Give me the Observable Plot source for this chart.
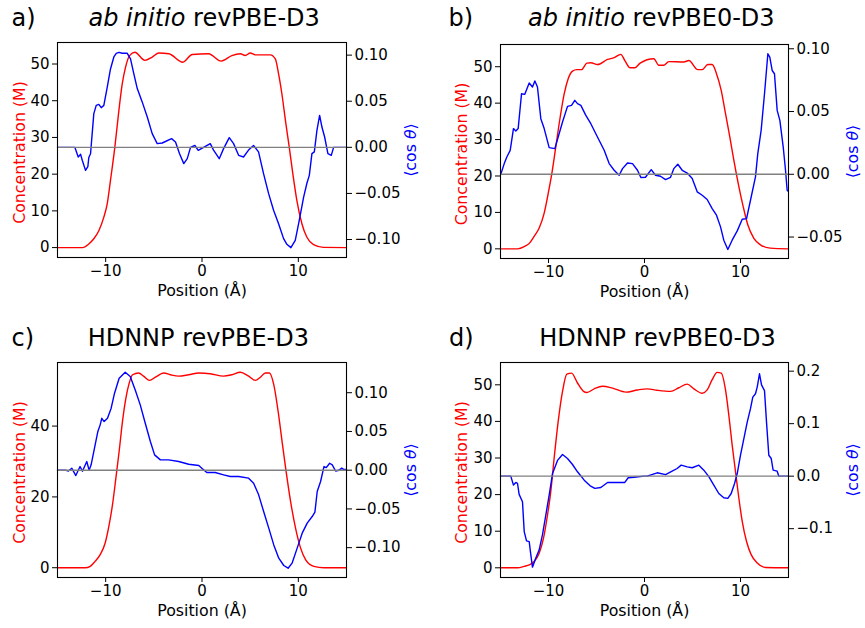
<!DOCTYPE html>
<html><head><meta charset="utf-8">
<script src="https://cdn.jsdelivr.net/npm/d3@7"></script>
<script src="https://cdn.jsdelivr.net/npm/@observablehq/plot@0.6"></script>
<style>
body{margin:0;background:#fff;}
#chart{position:relative;width:865px;height:628px;font-family:"DejaVu Sans",sans-serif;}
#chart svg{position:absolute;left:0;top:0;}
</style></head><body><div id="chart"></div>
<script>
// ---------- data ----------
const xTicks = [-10, 0, 10];

const concA = [[-15,0],[-12.4,0],[-11.75,1.0],[-11.23,2.4],[-10.71,4.6],[-10.19,8.3],[-9.84,11.9],[-9.5,18.3],[-9.05,27.3],[-8.63,37.3],[-8.28,44.6],[-7.94,49.1],[-7.52,52.3],[-6.97,53.2],[-5.93,51.0],[-5.17,51.9],[-4.48,53.0],[-3.44,52.8],[-1.99,50.5],[-1.01,52.6],[0.68,52.8],[2.0,50.8],[3.1,52.3],[3.97,52.8],[4.49,52.3],[5.01,53.0],[5.53,52.5],[7.09,52.5],[7.61,51.4],[7.95,47.3],[8.29,41.9],[8.71,33.7],[9.06,27.3],[9.43,20.1],[9.85,12.8],[10.37,6.5],[10.89,2.8],[11.58,0.8],[12.62,0.05],[15,0]];
const cosA = [[-15,0],[-13.2,0],[-12.85,-0.0105],[-12.6,-0.0076],[-12.43,-0.014],[-12.09,-0.025],[-11.85,-0.021],[-11.75,-0.011],[-11.57,-0.0069],[-11.4,0.0148],[-11.23,0.0365],[-10.98,0.0455],[-10.71,0.0466],[-10.46,0.043],[-10.19,0.0455],[-9.84,0.065],[-9.5,0.085],[-9.15,0.098],[-8.9,0.102],[-8.63,0.103],[-8.28,0.102],[-7.76,0.102],[-7.42,0.096],[-7.08,0.080],[-6.72,0.0637],[-6.2,0.049],[-5.68,0.0329],[-5.17,0.0149],[-4.65,0.004],[-4.13,0.0047],[-3.16,0.0094],[-2.75,0.0058],[-2.33,-0.0069],[-1.89,-0.0177],[-1.53,-0.0123],[-1.19,0],[-0.74,0.002],[-0.39,-0.0033],[0.16,0],[0.86,0.004],[1.2,-0.003],[1.79,-0.0123],[2.24,-0.0014],[2.83,0.0105],[3.28,0.004],[3.8,-0.0087],[4.31,-0.0105],[4.83,-0.003],[5.35,0.002],[5.87,-0.005],[6.39,-0.0286],[6.91,-0.050],[7.43,-0.0683],[7.95,-0.0828],[8.47,-0.099],[8.81,-0.1052],[9.23,-0.1088],[9.68,-0.1009],[10.03,-0.0828],[10.55,-0.054],[10.89,-0.039],[11.14,-0.0304],[11.41,-0.0069],[11.66,-0.005],[11.93,0.0184],[12.21,0.0347],[12.45,0.022],[12.73,0.0112],[13.07,-0.0069],[13.42,-0.0087],[13.66,0],[15,0]];

const concB = [[-15,0],[-13.2,0],[-12.53,0.6],[-12.0,1.5],[-11.5,3.4],[-10.97,5.7],[-10.45,9.8],[-10.03,15.2],[-9.65,20.7],[-9.24,28],[-8.78,36.2],[-8.36,42.6],[-7.95,46.7],[-7.5,48.8],[-7.05,49.2],[-6.56,49.2],[-6.0,51.0],[-5.59,51.1],[-4.9,50.6],[-3.85,52.0],[-3.16,52.5],[-2.47,53.4],[-2.05,51.7],[-1.49,49.7],[-1.01,49.7],[-0.45,51.0],[0.97,52.2],[1.49,50.4],[2.0,50.4],[2.53,51.4],[4.1,51.3],[4.62,51.7],[5.55,49.2],[6.01,49.2],[6.6,50.6],[7.05,50.6],[7.5,48.1],[7.99,43.5],[8.44,37.1],[8.89,30.7],[9.3,24.4],[9.76,18],[10.28,11.6],[10.76,6.6],[11.39,2.9],[12.08,1.1],[13.1,0.2],[15,0]];
const cosB = [[-14.97,0],[-14.61,0.0085],[-14.34,0.0138],[-13.99,0.019],[-13.65,0.0364],[-13.4,0.0345],[-13.16,0.0364],[-12.81,0.0642],[-12.47,0.0637],[-12.01,0.0727],[-11.67,0.0695],[-11.42,0.0743],[-11.15,0.0695],[-10.8,0.0443],[-10.45,0.0364],[-9.93,0.0212],[-9.34,0.0204],[-8.99,0.0297],[-8.54,0.0416],[-8.02,0.0541],[-7.6,0.0549],[-7.26,0.0589],[-6.98,0.0563],[-6.63,0.0549],[-6.11,0.0469],[-5.59,0.0403],[-4.9,0.0297],[-4.2,0.0191],[-3.68,0.0085],[-3.16,0.0032],[-2.64,-0.0008],[-2.29,0.0045],[-1.77,0.009],[-1.25,0.0085],[-0.73,0.0032],[-0.38,-0.0026],[0.1,-0.0024],[0.7,0.0037],[1.15,-0.0008],[1.67,-0.0016],[2.19,-0.0042],[2.71,-0.0024],[3.05,0.0045],[3.47,0.008],[3.93,0.0032],[4.45,0.001],[4.97,-0.0034],[5.49,-0.014],[6.01,-0.0167],[6.53,-0.0201],[7.05,-0.0273],[7.5,-0.0326],[7.92,-0.0419],[8.26,-0.0525],[8.68,-0.0599],[9.13,-0.0525],[9.66,-0.0451],[10.18,-0.0358],[10.63,-0.0353],[11.04,-0.0207],[11.56,-0.0021],[11.8,0.0165],[12.15,0.035],[12.5,0.0642],[12.85,0.096],[13.05,0.0933],[13.3,0.0827],[13.54,0.0801],[13.82,0.0509],[14.1,0.043],[14.45,0.0217],[14.69,0.0032],[14.86,-0.0127],[14.97,-0.0135]];

const concC = [[-15,0],[-12.14,0],[-11.6,0.4],[-11.1,1.8],[-10.57,3.7],[-10.05,7],[-9.64,12.1],[-9.29,17.8],[-8.94,25.3],[-8.6,32.9],[-8.25,41.4],[-7.9,47.9],[-7.55,52.2],[-7.21,54.5],[-6.58,55.0],[-6.06,54.1],[-5.44,52.9],[-4.84,53.8],[-3.98,55.0],[-3.28,54.5],[-2.42,54.1],[-1.38,54.5],[-0.33,55.0],[0.85,54.8],[2.24,54.1],[3.1,54.5],[3.98,55.2],[4.84,54.1],[5.54,52.9],[6.06,53.8],[6.58,55.0],[7.0,55.0],[7.45,51.7],[7.9,44.2],[8.31,35.7],[8.73,27.2],[9.19,18.8],[9.71,11.2],[10.23,5.6],[10.75,2.3],[11.61,0.4],[12.66,0],[15,0]];
const cosC = [[-15,0],[-14.2,0],[-13.87,-0.001],[-13.52,0.0026],[-13.1,-0.0069],[-12.66,0.0047],[-12.41,-0.0013],[-11.96,0.0112],[-11.72,0],[-11.51,0.0069],[-11.16,0.0284],[-10.81,0.05],[-10.57,0.0585],[-10.4,0.067],[-10.16,0.0628],[-9.81,0.067],[-9.43,0.08],[-9.08,0.0994],[-8.6,0.1187],[-7.97,0.1265],[-7.45,0.121],[-6.93,0.1036],[-6.41,0.0843],[-5.89,0.0606],[-5.36,0.037],[-4.92,0.0198],[-4.32,0.0133],[-3.46,0.0133],[-2.42,0.0112],[-1.38,0.0077],[-0.33,0.006],[-0.02,0.0026],[0.5,-0.003],[1.37,-0.003],[2.24,-0.006],[2.93,-0.0082],[3.8,-0.0082],[4.84,-0.0103],[5.36,-0.0168],[5.88,-0.0318],[6.4,-0.0533],[6.93,-0.0748],[7.45,-0.0964],[7.97,-0.1135],[8.49,-0.123],[8.94,-0.1265],[9.35,-0.12],[9.88,-0.1006],[10.4,-0.0813],[10.92,-0.0684],[11.44,-0.0598],[11.72,-0.0542],[11.96,-0.0275],[12.31,-0.0146],[12.66,0.0047],[12.9,0.0034],[13.25,0.009],[13.52,0.0069],[13.87,-0.001],[14.22,0],[14.5,0.0026],[14.7,0.001],[15,0.001]];

const concD = [[-15,0],[-13.2,0],[-12.53,0.4],[-12.0,0.8],[-11.5,1.7],[-10.97,4.0],[-10.52,8.1],[-10.1,14.5],[-9.76,20.9],[-9.41,30.0],[-8.99,40.0],[-8.54,48.2],[-8.09,52.9],[-7.6,53.2],[-6.98,50.5],[-6.35,48.2],[-6.01,47.9],[-5.24,48.9],[-4.38,49.6],[-3.33,49.1],[-1.94,48.0],[-0.73,48.6],[0.28,48.9],[1.32,48.5],[2.71,48.2],[3.58,49.2],[4.45,50.2],[5.14,48.9],[6.01,47.7],[6.53,48.6],[7.05,51.4],[7.57,53.4],[7.99,53.2],[8.44,48.6],[8.78,41.8],[9.13,33.6],[9.48,26.3],[9.83,19.0],[10.18,12.7],[10.63,7.2],[11.11,3.6],[11.74,1.3],[12.6,0.1],[15,0]];
const cosD = [[-15,0],[-13.93,0],[-13.65,-0.017],[-13.4,-0.012],[-13.23,-0.0135],[-13.06,-0.0347],[-12.71,-0.0486],[-12.53,-0.1055],[-12.29,-0.1233],[-12.01,-0.1246],[-11.84,-0.15],[-11.67,-0.1733],[-11.32,-0.156],[-10.97,-0.1404],[-10.63,-0.112],[-10.28,-0.074],[-9.93,-0.036],[-9.58,0.005],[-9.06,0.030],[-8.54,0.0412],[-8.02,0.0336],[-7.5,0.0222],[-6.98,0.0083],[-6.28,-0.0076],[-5.66,-0.0183],[-5.17,-0.0233],[-4.55,-0.0215],[-3.85,-0.012],[-2.99,-0.012],[-2.05,-0.012],[-1.7,-0.003],[-1.08,-0.002],[-0.03,0],[0.28,0],[1.32,0.0064],[2.19,0.003],[2.88,0.0095],[3.4,0.0146],[3.82,0.021],[4.45,0.0178],[4.97,0.016],[5.66,0.021],[6.18,0.0114],[6.7,-0.001],[7.22,-0.017],[7.74,-0.033],[8.26,-0.041],[8.68,-0.0423],[9.03,-0.033],[9.38,-0.0139],[9.66,0.005],[10.0,0.0399],[10.35,0.0715],[10.7,0.103],[11.04,0.1285],[11.28,0.1506],[11.56,0.157],[11.74,0.1696],[11.98,0.195],[12.19,0.174],[12.5,0.163],[12.71,0.103],[12.95,0.0399],[13.2,0.0336],[13.4,0.0114],[13.82,0.0095],[13.99,0],[15,0]];

const concTicksA = [0,10,20,30,40,50];
const concTicksB = [0,10,20,30,40,50];
const concTicksC = [0,20,40];
const concTicksD = [0,10,20,30,40,50];
const cosTicksA = [-0.10,-0.05,0,0.05,0.10];
const cosTicksB = [-0.05,0,0.05,0.10];
const cosTicksC = [-0.10,-0.05,0,0.05,0.10];
const cosTicksD = [-0.1,0,0.1,0.2];

const letters = ["a)","b)","c)","d)"];
const titles = ["ab initio revPBE-D3","ab initio revPBE0-D3","HDNNP revPBE-D3","HDNNP revPBE0-D3"];
const xLabel = "Position (Å)";
const yLabelLeft = "Concentration (M)";
const yLabelRight = "⟨cos θ⟩";

// ---------- layout ----------
const W = 865, H = 628;
const panels = [
  {i:0, frame:[57,42,346,257], conc:concA, cos:cosA, yL:[-2.7,55.86], yR:[-0.1195,0.1137], tL:concTicksA, tR:cosTicksA, fmtR:".2f", titleX:203.7, letterX:11, base:25, labL:19.5, labR:410.7},
  {i:1, frame:[500,44,788,258], conc:concB, cos:cosB, yL:[-2.65,56.1], yR:[-0.0671,0.1034], tL:concTicksB, tR:cosTicksB, fmtR:".2f", titleX:650.8, letterX:448, base:25, labL:461.5, labR:852.7},
  {i:2, frame:[57,362,346,577], conc:concC, cos:cosC, yL:[-2.76,57.96], yR:[-0.1385,0.139], tL:concTicksC, tR:cosTicksC, fmtR:".2f", titleX:197.8, letterX:11, base:345, labL:19.5, labR:410.7},
  {i:3, frame:[500,362,788,577], conc:concD, cos:cosD, yL:[-2.65,56.1], yR:[-0.193,0.2165], tL:concTicksD, tR:cosTicksD, fmtR:".1f", titleX:657, letterX:448.5, base:345, labL:461.5, labR:852.7}
];

const font = '"DejaVu Sans", sans-serif';
const chart = document.getElementById("chart");

function styleText(svg, str, parts) {
  const els = [...svg.querySelectorAll("text, tspan")].filter(e => e.textContent === str && !e.querySelector("tspan"));
  els.forEach(el => {
    while (el.firstChild) el.removeChild(el.firstChild);
    parts.forEach(([t, it]) => {
      const ts = document.createElementNS("http://www.w3.org/2000/svg", "tspan");
      ts.textContent = t;
      if (it) ts.setAttribute("font-style", "italic");
      el.appendChild(ts);
    });
  });
}

panels.forEach(p => {
  const [fl, ft, fr, fb] = p.frame;
  const common = {
    width: W, height: H,
    marginLeft: fl, marginRight: W - fr, marginTop: ft, marginBottom: H - fb,
    style: {fontFamily: font, fontSize: "15px", color: "black", background: "transparent", overflow: "visible"}
  };
  const left = Plot.plot({
    ...common,
    x: {domain: [-15, 15]},
    y: {domain: p.yL},
    marks: [
      Plot.line(p.conc, {x: d => d[0], y: d => d[1], stroke: "red", strokeWidth: 1.4, curve: "monotone-x"}),
      Plot.axisX({ticks: xTicks, tickSize: 5, tickPadding: 3, label: null, fontSize: 15}),
      Plot.axisY({ticks: p.tL, tickSize: 5, tickPadding: 3, label: null, fontSize: 15}),
      Plot.text([titles[p.i]], {frameAnchor: "top-left", dx: p.titleX - fl, dy: p.base - ft, lineAnchor: "bottom", textAnchor: "middle", fontSize: 24}),
      Plot.text([letters[p.i]], {frameAnchor: "top-left", dx: p.letterX - fl, dy: p.base - ft, lineAnchor: "bottom", textAnchor: "start", fontSize: 24}),
      Plot.text([yLabelLeft], {frameAnchor: "left", dx: p.labL - fl, dy: 2.5, rotate: -90, textAnchor: "middle", fill: "red", fontSize: 15.8}),
      Plot.text([xLabel], {frameAnchor: "bottom", dy: 38.5, lineAnchor: "bottom", textAnchor: "middle", fontSize: 15.8})
    ]
  });
  const right = Plot.plot({
    ...common,
    x: {domain: [-15, 15], axis: null},
    y: {domain: p.yR},
    marks: [
      Plot.line(p.cos, {x: d => d[0], y: d => d[1], stroke: "blue", strokeWidth: 1.4}),
      Plot.ruleY([0], {stroke: "gray", strokeWidth: 1.4}),
      Plot.axisY({anchor: "right", ticks: p.tR, tickFormat: d3.format(p.fmtR), tickSize: 5, tickPadding: 3, label: null, fontSize: 15}),
      Plot.text([yLabelRight], {frameAnchor: "right", dx: p.labR - fr, rotate: -90, textAnchor: "middle", fill: "blue", fontSize: 15.8}),
      Plot.frame({stroke: "black", strokeWidth: 1.1})
    ]
  });
  if (p.i < 2) styleText(left, titles[p.i], [["ab initio", true], [titles[p.i].slice(9), false]]);
  styleText(right, yLabelRight, [["⟨cos ", false], ["θ", true], ["⟩", false]]);
  chart.appendChild(left);
  chart.appendChild(right);
});
</script></body></html>
